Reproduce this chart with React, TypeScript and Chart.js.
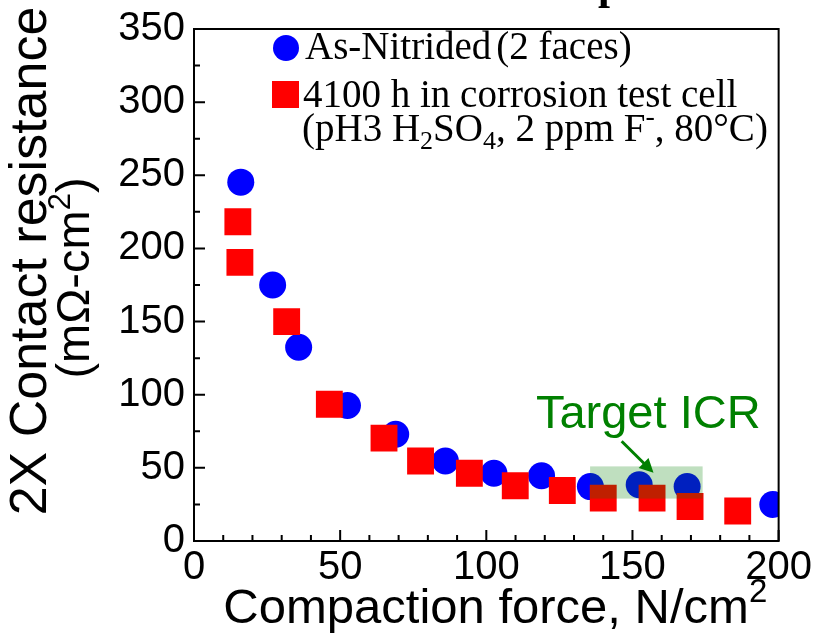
import React, { useEffect, useRef } from "react";
import { Chart, registerables } from "chart.js";

Chart.register(...registerables);

// ---- data ----
const asNitridedForce = [16, 26.9, 35.8, 52.5, 69.0, 86.0, 102.6, 118.9, 135.6, 152.3, 168.7, 198.0];
const asNitridedICR = [245.3, 175, 132.4, 92.6, 73, 54.7, 46.3, 44.6, 37.2, 38.5, 37.2, 25];

const corrodedForce = [15, 15.7, 31.7, 46.3, 65, 77.5, 94.2, 109.9, 126, 140, 156.7, 169.7, 186];
const corrodedICR = [218.2, 190.5, 150, 93.5, 70.3, 54.7, 46.3, 37.8, 34.5, 29.3, 29.3, 23.6, 20.5];

const xTickValues = [0, 50, 100, 150, 200];
const yTickValues = [0, 50, 100, 150, 200, 250, 300, 350];

const targetForceRange = [135.5, 174];
const targetICRRange = [29, 51];

const SANS = "'Liberation Sans', Arial, sans-serif";
const SERIF = "'Liberation Serif', 'Times New Roman', serif";

type Seg = { t: string; size: number; dy?: number; bold?: boolean };

function drawSegs(ctx: CanvasRenderingContext2D, segs: Seg[], family: string, x: number, y: number, align: "left" | "center") {
  ctx.textBaseline = "alphabetic";
  ctx.textAlign = "left";
  let total = 0;
  const widths = segs.map((s) => {
    ctx.font = `${s.bold ? "bold " : ""}${s.size}px ${family}`;
    const w = ctx.measureText(s.t).width;
    total += w;
    return w;
  });
  let cx = align === "center" ? x - total / 2 : x;
  segs.forEach((s, i) => {
    ctx.font = `${s.bold ? "bold " : ""}${s.size}px ${family}`;
    ctx.fillText(s.t, cx, y + (s.dy || 0));
    cx += widths[i];
  });
}

const decorPlugin = {
  id: "decor",
  afterDatasetsDraw(chart: any) {
    const ctx: CanvasRenderingContext2D = chart.ctx;
    const xs = chart.scales.x;
    const ys = chart.scales.y;
    ctx.save();
    ctx.fillStyle = "rgba(0,128,0,0.25)";
    const bx1 = xs.getPixelForValue(targetForceRange[0]);
    const bx2 = xs.getPixelForValue(targetForceRange[1]);
    const by1 = ys.getPixelForValue(targetICRRange[1]);
    const by2 = ys.getPixelForValue(targetICRRange[0]);
    ctx.fillRect(bx1, by1, bx2 - bx1, by2 - by1);
    ctx.restore();
  },
  afterDraw(chart: any) {
    const ctx: CanvasRenderingContext2D = chart.ctx;
    const { left, right, top, bottom } = chart.chartArea;
    const xs = chart.scales.x;
    const ys = chart.scales.y;
    ctx.save();
    // frame
    ctx.strokeStyle = "#000";
    ctx.lineWidth = 2;
    ctx.strokeRect(left, top, right - left, bottom - top);
    // ticks (inward)
    ctx.beginPath();
    for (let v = 0; v <= 200; v += 10) {
      const px = xs.getPixelForValue(v);
      const len = v % 50 === 0 ? 11 : 6;
      ctx.moveTo(px, bottom);
      ctx.lineTo(px, bottom - len);
    }
    for (let v = 0; v <= 350; v += 25) {
      const py = ys.getPixelForValue(v);
      const len = v % 50 === 0 ? 11 : 6;
      ctx.moveTo(left, py);
      ctx.lineTo(left + len, py);
    }
    ctx.stroke();

    // axis titles
    ctx.fillStyle = "#000";
    drawSegs(ctx, [
      { t: "Compaction force, N/cm", size: 49 },
      { t: "2", size: 33, dy: -21 },
    ], SANS, (left + right) / 2 + 9, 623, "center");

    ctx.save();
    ctx.translate(46, 261);
    ctx.rotate(-Math.PI / 2);
    drawSegs(ctx, [{ t: "2X Contact resistance", size: 52 }], SANS, 0, 0, "center");
    ctx.restore();

    ctx.save();
    ctx.translate(89, 278);
    ctx.rotate(-Math.PI / 2);
    drawSegs(ctx, [
      { t: "(m\u03A9-cm", size: 47 },
      { t: "2", size: 31, dy: -19 },
      { t: ")", size: 47 },
    ], SANS, 0, 0, "center");
    ctx.restore();

    // legend
    ctx.fillStyle = "#0000ff";
    ctx.beginPath();
    ctx.arc(286, 48, 13, 0, Math.PI * 2);
    ctx.fill();
    ctx.fillStyle = "#ff0000";
    ctx.fillRect(272, 81, 27, 27);
    ctx.fillStyle = "#000";
    ctx.font = `39px ${SERIF}`;
    ctx.textAlign = "left";
    ctx.textBaseline = "alphabetic";
    const w1 = ctx.measureText("As-Nitrided").width;
    ctx.fillText("As-Nitrided", 305, 59);
    ctx.fillText("(2 faces)", 305 + w1 + 5, 59);
    ctx.fillText("4100 h in corrosion test cell", 303, 107);
    drawSegs(ctx, [
      { t: "(pH3 H", size: 39 },
      { t: "2", size: 26, dy: 8 },
      { t: "SO", size: 39 },
      { t: "4", size: 26, dy: 8 },
      { t: ", 2 ppm F", size: 39 },
      { t: "-", size: 28, dy: -16 },
      { t: ", 80\u00B0C)", size: 39 },
    ], SERIF, 302, 141, "left");

    // Target ICR annotation
    ctx.fillStyle = "#008000";
    ctx.strokeStyle = "#008000";
    drawSegs(ctx, [{ t: "Target ICR", size: 47 }], SANS, xs.getPixelForValue(155.4), ys.getPixelForValue(77), "center");
    const ax1 = xs.getPixelForValue(146.3), ay1 = ys.getPixelForValue(68.2);
    const ax2 = xs.getPixelForValue(157.2), ay2 = ys.getPixelForValue(46.6);
    const ang = Math.atan2(ay2 - ay1, ax2 - ax1);
    ctx.lineWidth = 3;
    ctx.beginPath();
    ctx.moveTo(ax1, ay1);
    ctx.lineTo(ax2 - 10 * Math.cos(ang), ay2 - 10 * Math.sin(ang));
    ctx.stroke();
    ctx.beginPath();
    ctx.moveTo(ax2, ay2);
    ctx.lineTo(ax2 - 14 * Math.cos(ang) + 7 * Math.sin(ang), ay2 - 14 * Math.sin(ang) - 7 * Math.cos(ang));
    ctx.lineTo(ax2 - 14 * Math.cos(ang) - 7 * Math.sin(ang), ay2 - 14 * Math.sin(ang) + 7 * Math.cos(ang));
    ctx.closePath();
    ctx.fill();

    // cut-off title glyph at top
    ctx.fillStyle = "#000";
    ctx.font = `bold 43px ${SERIF}`;
    ctx.fillText("p", 598, -1);
    ctx.restore();
  },
};

export default function App() {
  const ref = useRef<HTMLCanvasElement | null>(null);
  useEffect(() => {
    const canvas = ref.current;
    if (!canvas) return;
    const chart = new Chart(canvas, {
      type: "scatter",
      data: {
        datasets: [
          {
            label: "4100 h in corrosion test cell",
            data: corrodedForce.map((x, i) => ({ x, y: corrodedICR[i] })),
            pointStyle: "rect",
            pointRadius: 19,
            pointBorderWidth: 0,
            backgroundColor: "#ff0000",
            borderColor: "#ff0000",
            order: 0,
          },
          {
            label: "As-Nitrided (2 faces)",
            data: asNitridedForce.map((x, i) => ({ x, y: asNitridedICR[i] })),
            pointStyle: "circle",
            pointRadius: 13.5,
            pointBorderWidth: 0,
            backgroundColor: "#0000ff",
            borderColor: "#0000ff",
            order: 1,
          },
        ],
      },
      options: {
        responsive: false,
        animation: false,
        events: [],
        layout: { padding: { top: 23, right: 38, left: 0, bottom: 0 } },
        plugins: { legend: { display: false }, tooltip: { enabled: false } },
        scales: {
          x: {
            type: "linear",
            min: 0,
            max: 200,
            afterBuildTicks: (s: any) => { s.ticks = xTickValues.map((v) => ({ value: v })); },
            ticks: { color: "#000", font: { family: SANS, size: 40, lineHeight: 1 }, padding: 7, maxRotation: 0, autoSkip: false },
            grid: { display: false, drawTicks: false },
            border: { display: false },
            afterFit: (s: any) => { s.height = 98; },
          },
          y: {
            type: "linear",
            min: 0,
            max: 350,
            afterBuildTicks: (s: any) => { s.ticks = yTickValues.map((v) => ({ value: v })); },
            ticks: { color: "#000", font: { family: SANS, size: 40, lineHeight: 1 }, padding: 9, autoSkip: false },
            grid: { display: false, drawTicks: false },
            border: { display: false },
            afterFit: (s: any) => { s.width = 194; },
          },
        },
      },
      plugins: [decorPlugin],
    });
    return () => chart.destroy();
  }, []);
  return (
    <div style={{ position: "fixed", left: 0, top: 0, width: 819, height: 639, background: "#fff" }}>
      <canvas ref={ref} width={819} height={639} />
    </div>
  );
}
